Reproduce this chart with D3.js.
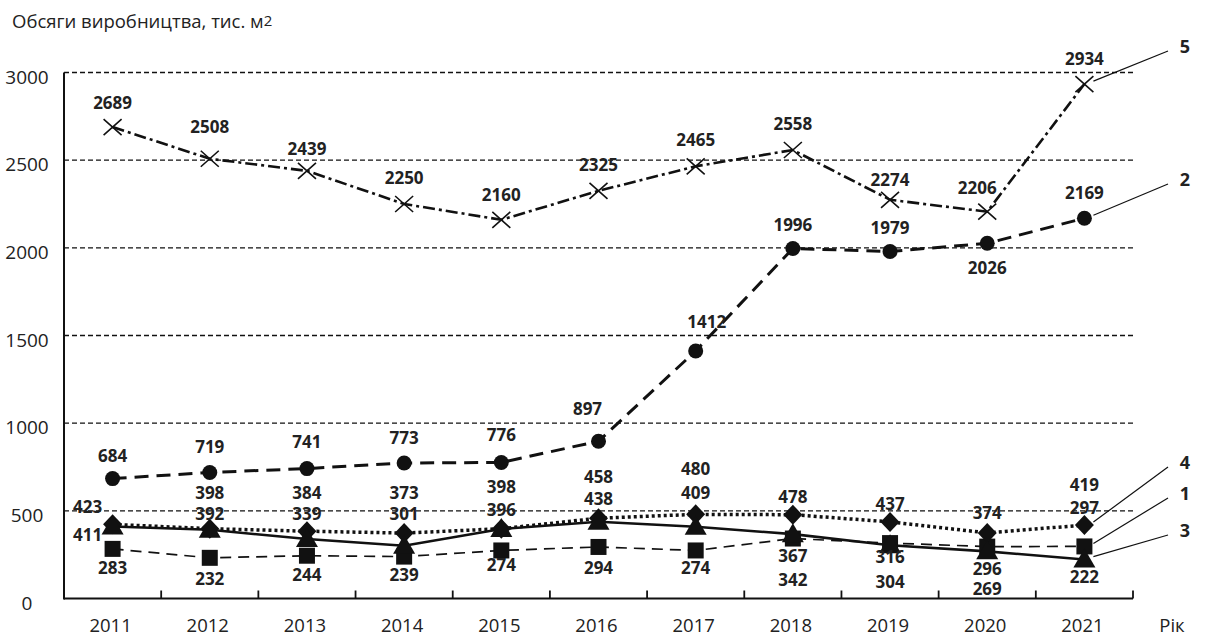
<!DOCTYPE html>
<html>
<head>
<meta charset="utf-8">
<script src="https://cdn.jsdelivr.net/npm/d3@7"></script>
<style>
  html, body { margin: 0; padding: 0; background: #fff; }
  svg { display: block; }
</style>
</head>
<body>
<svg id="chart" width="1211" height="638"></svg>
<script>
// ---------- DATA ----------
const years = [2011, 2012, 2013, 2014, 2015, 2016, 2017, 2018, 2019, 2020, 2021];
const series1 = [283, 232, 244, 239, 274, 294, 274, 342, 316, 296, 297];        // squares
const series2 = [684, 719, 741, 773, 776, 897, 1412, 1996, 1979, 2026, 2169];   // circles
const series3 = [411, 392, 339, 301, 396, 438, 409, 367, 304, 269, 222];        // triangles
const series4 = [423, 398, 384, 373, 398, 458, 480, 478, 437, 374, 419];        // diamonds
const series5 = [2689, 2508, 2439, 2250, 2160, 2325, 2465, 2558, 2274, 2206, 2934]; // crosses
const seriesNames = ["1", "2", "3", "4", "5"];
const yTicks = [0, 500, 1000, 1500, 2000, 2500, 3000];
const yTitle = "Обсяги виробництва, тис. м";
const xTitle = "Рік";

// ---------- LAYOUT (label placement, px offsets from own marker) ----------
const labelLayout = {
  "1": { dy: [19, 21, 19, 18, 15, 21, 18, 41, 14, 22, -38], dx: [0,0,0,0,0,0,0,0,0,0,0] },
  "2": { dy: [-23, -25, -27, -25, -27, -32, -29, -24, -24, 25, -25], dx: [0,0,0,0,0,-11,11,0,0,0,0] },
  "3": { dy: [9, -16, -25, -32, -19, -23, -34, 22, 37, 38, 17], dx: [-25,0,0,0,0,0,0,0,0,0,0] },
  "4": { dy: [-17, -36, -38, -40, -42, -41, -45, -18, -18, -20, -40], dx: [-25,0,0,0,0,0,0,0,0,0,0] },
  "5": { dy: [-24, -32, -22, -26, -25, -26, -26, -26, -20, -24, -25], dx: [0,0,0,0,0,0,0,0,0,-10,0] }
};
const calloutEndY = { "5": 51, "2": 184, "4": 467, "1": 498, "3": 535 };

const svg = d3.select("#chart");
const L = 64, R = 1133, T = 72.5, B = 598.5;

const x = d3.scaleBand().domain(years).range([L, R]).padding(0);
const cx = d => x(d) + x.bandwidth() / 2;
const y = d3.scaleLinear().domain([0, 3000]).range([B, T]);

const FONT = "'Open Sans', 'Noto Sans', 'Liberation Sans', sans-serif";

// gridlines
svg.append("g").selectAll("line").data(yTicks.filter(t => t > 0)).join("line")
  .attr("x1", L).attr("x2", R)
  .attr("y1", d => y(d)).attr("y2", d => y(d))
  .attr("stroke", "#111").attr("stroke-width", 1.3).attr("stroke-dasharray", "5,3");

// axes
svg.append("line").attr("x1", L).attr("x2", L).attr("y1", y(3000)).attr("y2", B + 1)
  .attr("stroke", "#111").attr("stroke-width", 2);
svg.append("line").attr("x1", L).attr("x2", R).attr("y1", B).attr("y2", B)
  .attr("stroke", "#111").attr("stroke-width", 2);
// x ticks at band boundaries (upward)
const tickXs = years.map(d => x(d)).concat([R]).slice(1);
svg.append("g").selectAll("line").data(tickXs).join("line")
  .attr("x1", d => d).attr("x2", d => d).attr("y1", B).attr("y2", B - 8)
  .attr("stroke", "#111").attr("stroke-width", 1.8);

// y tick labels
svg.append("g").selectAll("text").data(yTicks).join("text")
  .attr("x", 27).attr("y", d => y(d) + 11)
  .attr("text-anchor", "middle")
  .attr("font-family", FONT).attr("font-size", 19).attr("fill", "#222")
  .text(d => d);

// x tick labels
svg.append("g").selectAll("text").data(years).join("text")
  .attr("x", d => cx(d) - 2).attr("y", 632)
  .attr("text-anchor", "middle")
  .attr("font-family", FONT).attr("font-size", 18.5).attr("fill", "#222")
  .text(d => d);

// axis titles
const yt = svg.append("text").attr("x", 12).attr("y", 28)
  .attr("font-family", FONT).attr("font-size", 18.5).attr("fill", "#222")
  .text(yTitle);
yt.append("tspan").attr("font-size", 15).attr("dy", -2).text("2");
svg.append("text").attr("x", 1172).attr("y", 632)
  .attr("text-anchor", "middle")
  .attr("font-family", FONT).attr("font-size", 18.5).attr("fill", "#222")
  .text(xTitle);

// ---------- SERIES ----------
const seriesDefs = [
  { name: "5", values: series5, dash: "12,4,3,4", width: 2.6, marker: "cross" },
  { name: "2", values: series2, dash: "14,8", width: 3, marker: "circle" },
  { name: "1", values: series1, dash: "11,7", width: 1.7, marker: "square" },
  { name: "4", values: series4, dash: "3,3", width: 3.5, marker: "diamond" },
  { name: "3", values: series3, dash: null, width: 2.6, marker: "triangle" }
];

const line = d3.line().x(d => cx(d.year)).y(d => y(d.value));

seriesDefs.forEach(s => {
  const pts = years.map((yr, i) => ({ year: yr, value: s.values[i] }));
  const p = svg.append("path").datum(pts)
    .attr("fill", "none").attr("stroke", "#111")
    .attr("stroke-width", s.width).attr("d", line);
  if (s.dash) p.attr("stroke-dasharray", s.dash);
});

seriesDefs.forEach(s => {
  const pts = years.map((yr, i) => ({ year: yr, value: s.values[i] }));
  const g = svg.append("g");
  pts.forEach(d => {
    const px = cx(d.year), py = y(d.value);
    if (s.marker === "circle") {
      g.append("circle").attr("cx", px).attr("cy", py).attr("r", 7.5).attr("fill", "#111");
    } else if (s.marker === "square") {
      g.append("rect").attr("x", px - 8).attr("y", py - 8).attr("width", 16).attr("height", 16).attr("fill", "#111");
    } else if (s.marker === "triangle") {
      g.append("path").attr("d", `M${px},${py - 11}L${px + 11},${py + 8}L${px - 11},${py + 8}Z`).attr("fill", "#111");
    } else if (s.marker === "diamond") {
      g.append("path").attr("d", `M${px},${py - 10}L${px + 9.5},${py}L${px},${py + 10}L${px - 9.5},${py}Z`).attr("fill", "#111");
    } else if (s.marker === "cross") {
      g.append("path").attr("d", `M${px - 9},${py - 8}L${px + 9},${py + 8}M${px + 9},${py - 8}L${px - 9},${py + 8}`)
        .attr("stroke", "#111").attr("stroke-width", 1.6).attr("fill", "none");
    }
  });
});

// data labels
seriesDefs.forEach(s => {
  const lay = labelLayout[s.name];
  svg.append("g").selectAll("text").data(s.values).join("text")
    .attr("x", (d, i) => cx(years[i]) + lay.dx[i])
    .attr("y", (d, i) => y(d) + lay.dy[i] + 6)
    .attr("text-anchor", "middle")
    .attr("font-family", FONT).attr("font-size", 17).attr("font-weight", "bold").attr("fill", "#222")
    .text(d => d);
});

// callouts on the right
seriesDefs.forEach(s => {
  const last = s.values[s.values.length - 1];
  const px = cx(years[years.length - 1]), py = y(last);
  const ey = calloutEndY[s.name];
  svg.append("line").attr("x1", px + 9).attr("y1", py - 3).attr("x2", 1168).attr("y2", ey)
    .attr("stroke", "#111").attr("stroke-width", 1.2);
  svg.append("text").attr("x", 1185).attr("y", ey + 2)
    .attr("text-anchor", "middle")
    .attr("font-family", FONT).attr("font-size", 18).attr("font-weight", "bold").attr("fill", "#222")
    .text(s.name);
});
</script>
</body>
</html>
